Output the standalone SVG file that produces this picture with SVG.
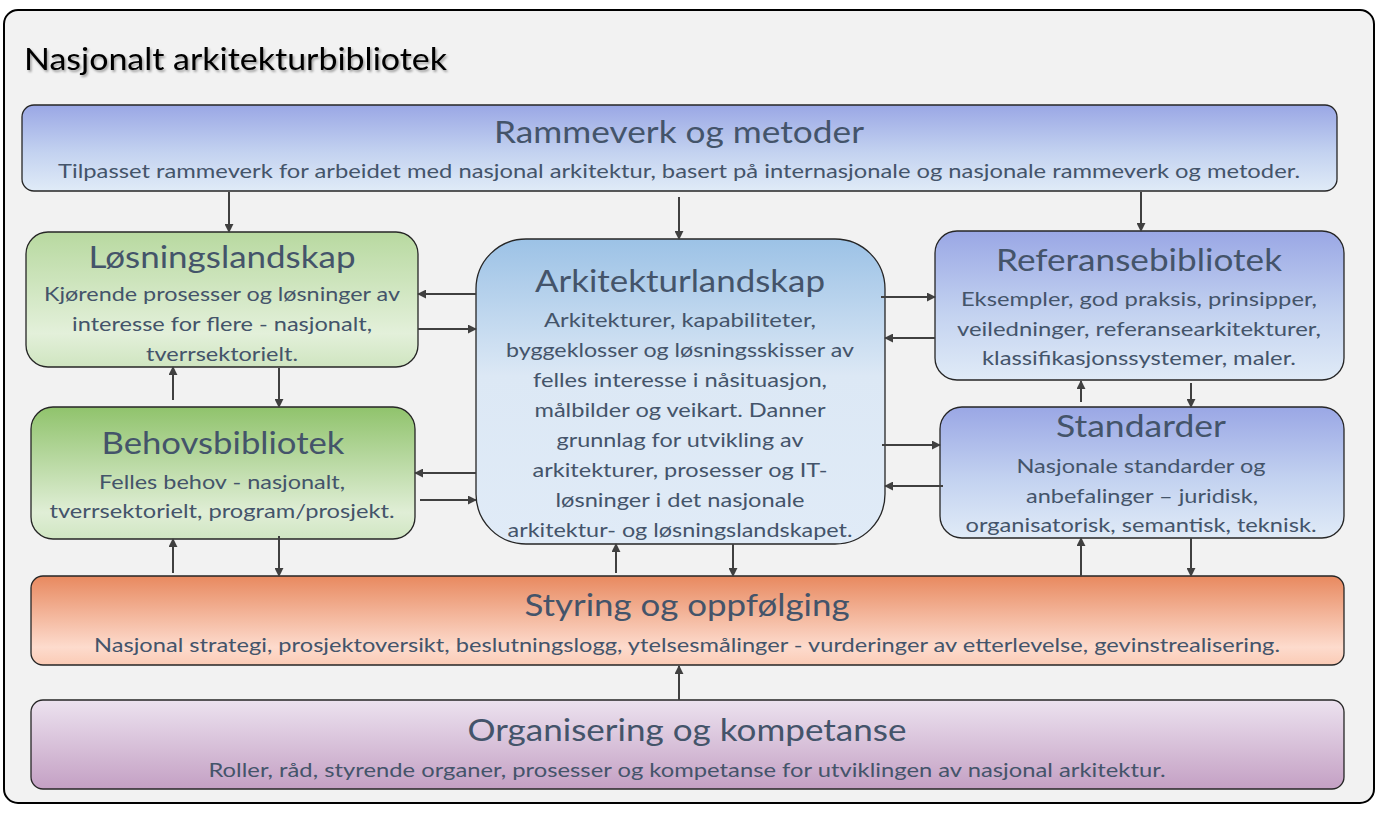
<svg xmlns="http://www.w3.org/2000/svg" width="1379" height="813" viewBox="0 0 1379 813">
<style>
.nb{stroke:#262626;stroke-width:1.3}
.t{font-family:Lato,"Open Sans","Liberation Sans",sans-serif;fill:#44546a;text-anchor:middle}
.h{font-size:31px}
.b{font-size:20px}
.c{stroke:#404040;stroke-width:2;fill:none;marker-end:url(#ah)}
</style>
<defs>
<marker id="ah" viewBox="0 0 10 10" refX="9" refY="5" markerWidth="4.5" markerHeight="4.5" orient="auto" markerUnits="strokeWidth">
<path d="M0,0 L10,5 L0,10 Z" fill="#404040"/>
</marker>
<linearGradient id="gBlue" x1="0" y1="0" x2="0" y2="1">
<stop offset="0" stop-color="#9aa7e5"/><stop offset="0.55" stop-color="#c3d2f0"/><stop offset="1" stop-color="#e0ebf7"/>
</linearGradient>
<linearGradient id="gSky" x1="0" y1="0" x2="0" y2="1">
<stop offset="0" stop-color="#9cc2e6"/><stop offset="0.45" stop-color="#dce8f5"/><stop offset="1" stop-color="#e0ebf7"/>
</linearGradient>
<linearGradient id="gGreenL" x1="0" y1="0" x2="0" y2="1">
<stop offset="0" stop-color="#b8d9a0"/><stop offset="0.75" stop-color="#e3f0da"/><stop offset="1" stop-color="#cfe5c0"/>
</linearGradient>
<linearGradient id="gGreen" x1="0" y1="0" x2="0" y2="1">
<stop offset="0" stop-color="#90c36c"/><stop offset="0.8" stop-color="#e0eed6"/><stop offset="1" stop-color="#d0e6c2"/>
</linearGradient>
<linearGradient id="gOrange" x1="0" y1="0" x2="0" y2="1">
<stop offset="0" stop-color="#e8895f"/><stop offset="0.8" stop-color="#fddbcd"/><stop offset="1" stop-color="#fbcbb5"/>
</linearGradient>
<linearGradient id="gPurple" x1="0" y1="0" x2="0" y2="1">
<stop offset="0" stop-color="#ece2ef"/><stop offset="1" stop-color="#c4a0c4"/>
</linearGradient>
<filter id="sh" x="-5%" y="-20%" width="110%" height="150%">
<feDropShadow dx="1.5" dy="2" stdDeviation="1.2" flood-color="#000" flood-opacity="0.35"/>
</filter>
</defs>

<g id="frame">
<rect x="4" y="10" width="1370" height="793" rx="14" fill="#f2f2f2" stroke="#000" stroke-width="2"/>
<text x="24" y="70" font-family="Lato,'Open Sans','Liberation Sans',sans-serif" font-size="30" fill="#000" textLength="423" lengthAdjust="spacingAndGlyphs" filter="url(#sh)">Nasjonalt arkitekturbibliotek</text>
</g>

<g id="rammeverk">
<rect class="nb" x="22" y="105" width="1315" height="86" rx="12" fill="url(#gBlue)"/>
<text class="t h" x="679" y="143" textLength="370" lengthAdjust="spacingAndGlyphs">Rammeverk og metoder</text>
<text class="t b" x="679" y="178" textLength="1242" lengthAdjust="spacingAndGlyphs">Tilpasset rammeverk for arbeidet med nasjonal arkitektur, basert på internasjonale og nasjonale rammeverk og metoder.</text>
</g>

<g id="losningslandskap">
<rect class="nb" x="26" y="232" width="392" height="135" rx="22" fill="url(#gGreenL)"/>
<text class="t h" x="222" y="268" textLength="267" lengthAdjust="spacingAndGlyphs">Løsningslandskap</text>
<text class="t b" x="222" y="301" textLength="356" lengthAdjust="spacingAndGlyphs">Kjørende prosesser og løsninger av</text>
<text class="t b" x="222" y="331" textLength="300" lengthAdjust="spacingAndGlyphs">interesse for flere - nasjonalt,</text>
<text class="t b" x="222" y="361" textLength="152" lengthAdjust="spacingAndGlyphs">tverrsektorielt.</text>
</g>

<g id="behovsbibliotek">
<rect class="nb" x="31" y="407" width="384" height="132" rx="22" fill="url(#gGreen)"/>
<text class="t h" x="223" y="454" textLength="243" lengthAdjust="spacingAndGlyphs">Behovsbibliotek</text>
<text class="t b" x="222" y="489" textLength="246" lengthAdjust="spacingAndGlyphs">Felles behov - nasjonalt,</text>
<text class="t b" x="222" y="518" textLength="345" lengthAdjust="spacingAndGlyphs">tverrsektorielt, program/prosjekt.</text>
</g>

<g id="arkitekturlandskap">
<rect class="nb" x="476" y="239" width="409" height="305" rx="50" fill="url(#gSky)"/>
<text class="t h" x="680" y="292" textLength="290" lengthAdjust="spacingAndGlyphs">Arkitekturlandskap</text>
<text class="t b" x="680" y="327" textLength="272" lengthAdjust="spacingAndGlyphs">Arkitekturer, kapabiliteter,</text>
<text class="t b" x="680" y="357" textLength="348" lengthAdjust="spacingAndGlyphs">byggeklosser og løsningsskisser av</text>
<text class="t b" x="680" y="387" textLength="294" lengthAdjust="spacingAndGlyphs">felles interesse i nåsituasjon,</text>
<text class="t b" x="680" y="417" textLength="291" lengthAdjust="spacingAndGlyphs">målbilder og veikart. Danner</text>
<text class="t b" x="680" y="447" textLength="247" lengthAdjust="spacingAndGlyphs">grunnlag for utvikling av</text>
<text class="t b" x="680" y="477" textLength="295" lengthAdjust="spacingAndGlyphs">arkitekturer, prosesser og IT-</text>
<text class="t b" x="680" y="507" textLength="249" lengthAdjust="spacingAndGlyphs">løsninger i det nasjonale</text>
<text class="t b" x="680" y="537" textLength="345" lengthAdjust="spacingAndGlyphs">arkitektur- og løsningslandskapet.</text>
</g>

<g id="referansebibliotek">
<rect class="nb" x="935" y="231" width="409" height="149" rx="22" fill="url(#gBlue)"/>
<text class="t h" x="1139" y="271" textLength="286" lengthAdjust="spacingAndGlyphs">Referansebibliotek</text>
<text class="t b" x="1139" y="306" textLength="356" lengthAdjust="spacingAndGlyphs">Eksempler, god praksis, prinsipper,</text>
<text class="t b" x="1139" y="336" textLength="364" lengthAdjust="spacingAndGlyphs">veiledninger, referansearkitekturer,</text>
<text class="t b" x="1139" y="365" textLength="314" lengthAdjust="spacingAndGlyphs">klassifikasjonssystemer, maler.</text>
</g>

<g id="standarder">
<rect class="nb" x="940" y="407" width="404" height="131" rx="22" fill="url(#gBlue)"/>
<text class="t h" x="1141" y="437" textLength="170" lengthAdjust="spacingAndGlyphs">Standarder</text>
<text class="t b" x="1141" y="473" textLength="249" lengthAdjust="spacingAndGlyphs">Nasjonale standarder og</text>
<text class="t b" x="1142" y="503" textLength="232" lengthAdjust="spacingAndGlyphs">anbefalinger – juridisk,</text>
<text class="t b" x="1141" y="532" textLength="351" lengthAdjust="spacingAndGlyphs">organisatorisk, semantisk, teknisk.</text>
</g>

<g id="styring">
<rect class="nb" x="31" y="576" width="1313" height="89" rx="12" fill="url(#gOrange)"/>
<text class="t h" x="687" y="616" textLength="325" lengthAdjust="spacingAndGlyphs">Styring og oppfølging</text>
<text class="t b" x="687" y="652" textLength="1186" lengthAdjust="spacingAndGlyphs">Nasjonal strategi, prosjektoversikt, beslutningslogg, ytelsesmålinger - vurderinger av etterlevelse, gevinstrealisering.</text>
</g>

<g id="organisering">
<rect class="nb" x="31" y="700" width="1313" height="89" rx="12" fill="url(#gPurple)"/>
<text class="t h" x="687" y="741" textLength="439" lengthAdjust="spacingAndGlyphs">Organisering og kompetanse</text>
<text class="t b" x="687" y="777" textLength="957" lengthAdjust="spacingAndGlyphs">Roller, råd, styrende organer, prosesser og kompetanse for utviklingen av nasjonal arkitektur.</text>
</g>

<g id="connectors">
<path class="c" d="M229,192 V232"/>
<path class="c" d="M679,197 V239"/>
<path class="c" d="M1141,192 V231"/>
<path class="c" d="M476,294 H418"/>
<path class="c" d="M418,329 H476"/>
<path class="c" d="M173,400 V367"/>
<path class="c" d="M279,368 V407"/>
<path class="c" d="M476,473 H415"/>
<path class="c" d="M420,500 H476"/>
<path class="c" d="M173,573 V539"/>
<path class="c" d="M279,536 V576"/>
<path class="c" d="M616,573 V544"/>
<path class="c" d="M733,544 V576"/>
<path class="c" d="M881,297 H935"/>
<path class="c" d="M935,338 H885"/>
<path class="c" d="M882,445 H940"/>
<path class="c" d="M943,486 H885"/>
<path class="c" d="M1081,402 V381"/>
<path class="c" d="M1191,383 V407"/>
<path class="c" d="M1081,576 V538"/>
<path class="c" d="M1191,538 V576"/>
<path class="c" d="M679,700 V666"/>
</g>
</svg>
